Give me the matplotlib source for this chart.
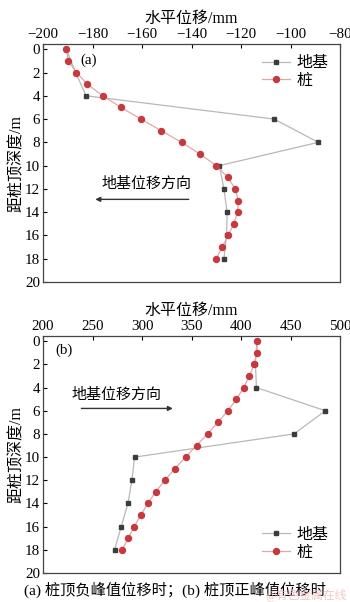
import numpy as np
import matplotlib
matplotlib.use("Agg")
import matplotlib.pyplot as plt

plt.rcParams['font.family'] = ['Liberation Serif', 'Noto Sans CJK SC']
plt.rcParams['axes.unicode_minus'] = True

# depths, m
depth_ground = [0, 2, 4, 6, 8, 10, 12, 14, 16, 18]
depth_pile = list(range(0, 19))

# (a) negative peak displacement of pile top
ground_a = [-190.6, -186.8, -182.6, -106.6, -88.8, -128.7, -126.9, -125.6, -125.8, -126.9]
pile_a = [-190.6, -189.8, -186.5, -182.1, -175.9, -168.5, -160.4, -152.2, -144.0, -136.6,
          -130.0, -125.4, -122.3, -121.1, -121.4, -122.9, -125.2, -127.6, -130.0]

# (b) positive peak displacement of pile top
ground_b = [416.0, 414.6, 415.6, 485.2, 453.6, 292.5, 289.8, 285.8, 279.0, 272.3]
pile_b = [416.3, 416.0, 413.3, 408.5, 402.8, 395.4, 386.7, 376.6, 366.2, 355.1,
          344.0, 333.2, 323.1, 313.7, 306.0, 298.6, 292.2, 285.8, 280.0]

xticks_a = [-200, -180, -160, -140, -120, -100, -80]
xticks_b = [200, 250, 300, 350, 400, 450, 500]
yticks = [0, 2, 4, 6, 8, 10, 12, 14, 16, 18, 20]

fig = plt.figure(figsize=(3.5, 6.02), dpi=100)
W, H = 350, 602
ax1 = fig.add_axes([43 / W, 1 - 282 / H, 297 / W, 238 / H])
ax2 = fig.add_axes([43 / W, 1 - 573 / H, 297 / W, 237 / H])

fs = 10.8
for ax, gx, px, xt, lab, lx, ly in [(ax1, ground_a, pile_a, xticks_a, '(a)', 0.125, 0.96),
                                    (ax2, ground_b, pile_b, xticks_b, '(b)', 0.04, 0.97)]:
    ax.plot(gx, depth_ground, '-s', color='#b8b8b8', lw=0.9, mfc='#3c3c3c', mec='#3c3c3c',
            ms=3.4, label='地基')
    ax.plot(px, depth_pile, '-o', color='#e2a8a8', lw=0.9, mfc='#c8393e', mec='#c8393e',
            ms=4.3, label='桩')
    ax.set_xlim(xt[0], xt[-1])
    ax.set_ylim(20, -0.45)
    ax.set_xticks(xt)
    ax.set_yticks(yticks)
    ax.xaxis.tick_top()
    ax.xaxis.set_label_position('top')
    ax.tick_params(direction='in', labelsize=fs, length=3, width=0.8, pad=2,
                   top=True, bottom=False, left=True, right=False)
    ax.set_xlabel('水平位移/mm', fontsize=11.5, labelpad=4)
    ax.set_ylabel('距桩顶深度/m', fontsize=11.5, labelpad=0)
    for s in ax.spines.values():
        s.set_color('#444444')
        s.set_linewidth(0.9)
    ax.text(lx, ly, lab, transform=ax.transAxes, fontsize=fs, va='top', ha='left')

# annotations
ax1.annotate('', xy=(-180, 12.9), xytext=(-140, 12.9),
             arrowprops=dict(arrowstyle='-|>', color='#333333', lw=1, mutation_scale=7))
ax1.text(-158, 11.6, '地基位移方向', fontsize=fs, ha='center', va='center')
ax2.annotate('', xy=(334, 5.8), xytext=(236, 5.8),
             arrowprops=dict(arrowstyle='-|>', color='#333333', lw=1, mutation_scale=7))
ax2.text(274, 4.6, '地基位移方向', fontsize=fs, ha='center', va='center')

leg_kw = dict(frameon=False, fontsize=11.5, handlelength=1.8, handletextpad=0.4,
              labelspacing=0.1, borderaxespad=0.3)
ax1.legend(loc='upper right', **leg_kw)
ax2.legend(loc='lower right', bbox_to_anchor=(1.0, 0.005), **leg_kw)

fig.text(0.5, 1 - 590 / H, '(a) 桩顶负峰值位移时；(b) 桩顶正峰值位移时', fontsize=11,
         ha='center', va='center')
fig.text(0.99, 1 - 596 / H, '@有色金属在线', fontsize=8.5, color='#f2b8b8', alpha=0.8,
         ha='right', va='center')

fig.savefig('out.png', dpi=100)
